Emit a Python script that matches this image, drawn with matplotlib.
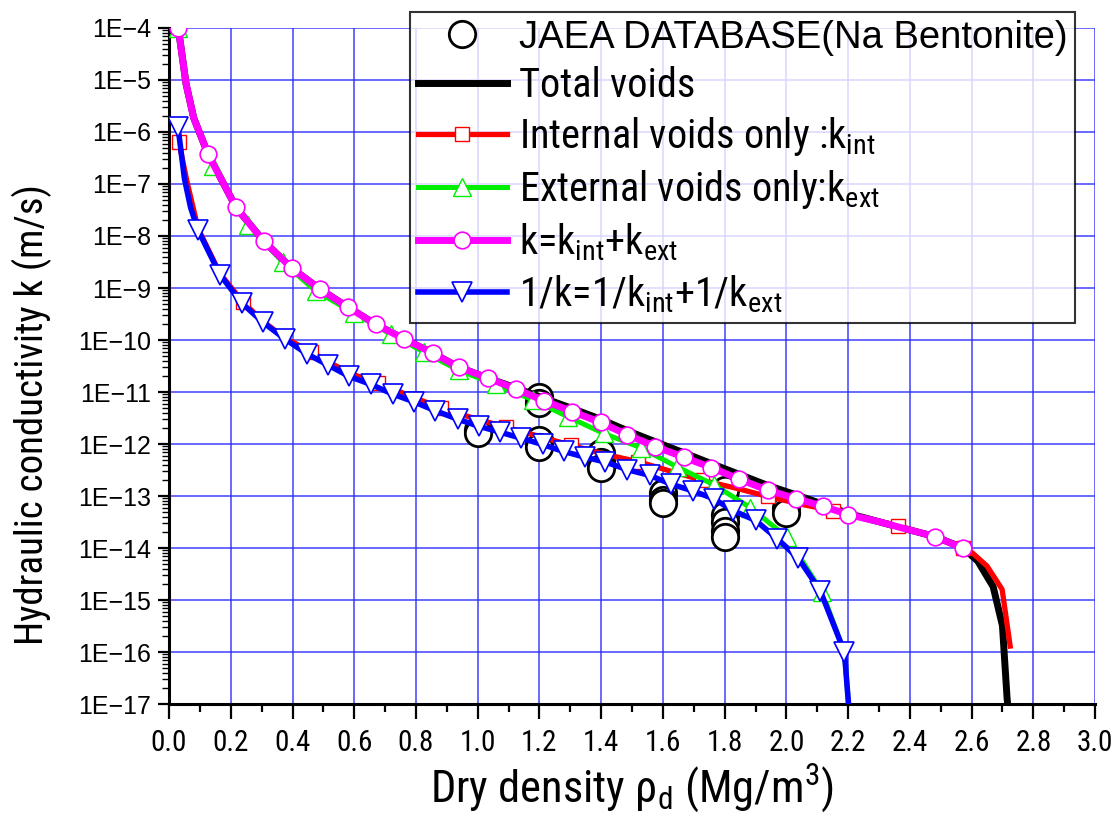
import math
import matplotlib
matplotlib.use('Agg')
import matplotlib.pyplot as plt
from matplotlib import font_manager
from matplotlib.lines import Line2D
from matplotlib.ticker import FixedLocator, LogLocator, FuncFormatter, MultipleLocator, NullFormatter

# pick a condensed sans for the labels if one is installed
fonts = font_manager.fontManager.ttflist
narrow_name = 'DejaVu Sans'
narrow_stretch = 'normal'
for cand in ['Liberation Sans Narrow', 'Roboto Condensed', 'Open Sans Condensed']:
    if any(f.name == cand for f in fonts):
        narrow_name = cand
        break
else:
    for f in fonts:
        if f.name in ('DejaVu Sans', 'Roboto', 'Open Sans', 'Noto Sans') and f.stretch in ('condensed', 'semi-condensed', 600, 700, 750):
            narrow_name = f.name
            narrow_stretch = 'condensed'
            break

plt.rcParams['font.family'] = [narrow_name, 'DejaVu Sans']
plt.rcParams['font.stretch'] = narrow_stretch
plt.rcParams['mathtext.fontset'] = 'custom'
plt.rcParams['mathtext.rm'] = narrow_name
plt.rcParams['mathtext.it'] = narrow_name

# JAEA database (Na bentonite)
jaea_rho = [1.0, 1.0, 1.2, 1.2, 1.2, 1.2, 1.4, 1.4, 1.4, 1.6, 1.6, 1.6,
            1.8, 1.8, 1.8, 1.8, 1.8, 2.0, 2.0]
jaea_k = [1.9e-12, 1.6e-12, 7.9e-12, 6.2e-12, 1.2e-12, 8.9e-13, 6.8e-13, 4.6e-13, 3.5e-13,
          1.15e-13, 8.5e-14, 7.4e-14, 1.3e-13, 4.4e-14, 3.1e-14, 2.1e-14, 1.6e-14,
          5.8e-14, 4.8e-14]

# Total voids
tot_rho = [0.03, 0.055, 0.08, 0.126, 0.217, 0.307, 0.398, 0.489, 0.579, 0.670, 0.761,
           0.854, 0.939, 1.032, 1.123, 1.214, 1.307, 1.398, 1.485, 1.576, 1.667, 1.757,
           1.848, 1.939, 2.032, 2.120, 2.201, 2.30, 2.39, 2.482, 2.573, 2.62, 2.67, 2.70,
           2.715, 2.725]
tot_k = [1.0e-4, 8.5e-6, 1.86e-6, 3.8e-7, 3.55e-8, 7.9e-9, 2.4e-9, 9.5e-10, 4.3e-10,
         2.0e-10, 1.05e-10, 5.6e-11, 3.0e-11, 1.86e-11, 1.2e-11, 7.6e-12, 4.8e-12, 3.0e-12,
         1.8e-12, 1.1e-12, 6.8e-13, 4.2e-13, 2.6e-13, 1.6e-13, 1.05e-13, 6.9e-14, 4.6e-14,
         3.2e-14, 2.3e-14, 1.66e-14, 1.0e-14, 5.6e-15, 1.8e-15, 3.2e-16, 1.3e-17, 3.2e-18]

# Internal voids only : k_int
int_rho = [0.032, 0.06, 0.094, 0.165, 0.239, 0.304, 0.375, 0.46, 0.583, 0.676, 0.793,
           0.88, 0.913, 1.0, 1.091, 1.2, 1.301, 1.414, 1.518, 1.625, 1.728, 1.84, 1.939,
           2.05, 2.152, 2.25, 2.362, 2.47, 2.573, 2.602, 2.65, 2.699, 2.725]
int_k = [6.3e-7, 1.0e-7, 1.4e-8, 1.9e-9, 5.4e-10, 2.3e-10, 1.1e-10, 5.9e-11, 2.3e-11,
         1.5e-11, 7.9e-12, 4.9e-12, 4.2e-12, 3.0e-12, 2.1e-12, 1.4e-12, 9.5e-13, 6.3e-13,
         4.6e-13, 3.0e-13, 2.0e-13, 1.4e-13, 9.8e-14, 6.9e-14, 5.2e-14, 3.8e-14, 2.7e-14,
         1.66e-14, 1.0e-14, 8.1e-15, 4.5e-15, 1.6e-15, 1.3e-16]
int_marks = [0, 4, 7, 9, 11, 14, 16, 18, 20, 22, 24, 26, 28]

# External voids only : k_ext
ext_rho = [0.03, 0.055, 0.08, 0.142, 0.256, 0.369, 0.476, 0.599, 0.718, 0.825, 0.939,
           1.058, 1.178, 1.294, 1.408, 1.528, 1.647, 1.764, 1.883, 2.003, 2.116, 2.188, 2.204]
ext_k = [1.0e-4, 8.5e-6, 1.86e-6, 2.2e-7, 1.66e-8, 3.1e-9, 8.7e-10, 3.3e-10, 1.3e-10,
         5.9e-11, 2.6e-11, 1.4e-11, 7.1e-12, 3.3e-12, 1.6e-12, 8.5e-13, 3.6e-13, 1.66e-13,
         6.0e-14, 1.6e-14, 1.4e-15, 1.0e-16, 6.3e-18]
ext_marks = [0] + list(range(3, 21))

# k = k_int + k_ext
sum_rho = [0.03, 0.055, 0.08, 0.126, 0.217, 0.307, 0.398, 0.489, 0.579, 0.670, 0.761,
           0.854, 0.939, 1.032, 1.123, 1.214, 1.307, 1.398, 1.485, 1.576, 1.667, 1.757,
           1.848, 1.939, 2.032, 2.120, 2.201, 2.30, 2.39, 2.482, 2.573]
sum_k = [1.0e-4, 8.5e-6, 1.86e-6, 3.8e-7, 3.55e-8, 7.9e-9, 2.4e-9, 9.5e-10, 4.3e-10,
         2.0e-10, 1.05e-10, 5.6e-11, 3.0e-11, 1.86e-11, 1.15e-11, 6.8e-12, 4.2e-12, 2.6e-12,
         1.5e-12, 8.9e-13, 5.6e-13, 3.5e-13, 2.1e-13, 1.3e-13, 8.9e-14, 6.3e-14, 4.4e-14,
         3.2e-14, 2.3e-14, 1.66e-14, 9.8e-15]
sum_marks = [0] + list(range(3, 27)) + [29, 30]

# 1/k = 1/k_int + 1/k_ext
ser_rho = [0.029, 0.05, 0.07, 0.094, 0.165, 0.236, 0.304, 0.375, 0.447, 0.515, 0.583,
           0.654, 0.725, 0.793, 0.861, 0.935, 1.003, 1.071, 1.139, 1.21, 1.278, 1.346,
           1.414, 1.485, 1.557, 1.625, 1.696, 1.764, 1.828, 1.90, 1.971, 2.039, 2.11,
           2.188, 2.204]
ser_k = [1.26e-6, 1.26e-7, 3.5e-8, 1.3e-8, 1.8e-9, 5.1e-10, 2.2e-10, 1.05e-10, 5.4e-11,
         3.3e-11, 2.0e-11, 1.4e-11, 9.1e-12, 6.5e-12, 4.4e-12, 3.0e-12, 2.2e-12, 1.7e-12,
         1.3e-12, 9.8e-13, 7.2e-13, 5.6e-13, 4.5e-13, 3.2e-13, 2.5e-13, 1.7e-13, 1.26e-13,
         8.9e-14, 5.2e-14, 3.4e-14, 1.5e-14, 6.3e-15, 1.5e-15, 1.0e-16, 6.3e-18]
ser_marks = [0] + list(range(3, 34))

labels = ['JAEA DATABASE(Na Bentonite)',
          'Total voids',
          'Internal voids only :k$_{\\mathrm{int}}$',
          'External voids only:k$_{\\mathrm{ext}}$',
          'k=k$_{\\mathrm{int}}$+k$_{\\mathrm{ext}}$',
          '1/k=1/k$_{\\mathrm{int}}$+1/k$_{\\mathrm{ext}}$']

fig = plt.figure(figsize=(11.15, 8.21), dpi=100)
ax = fig.add_axes([0.1516, 0.1425, 0.8305, 0.8234])

ax.plot(jaea_rho, jaea_k, 'o', ms=19, mfc='white', mec='black', mew=2, zorder=2)
ax.plot(tot_rho, tot_k, '-', color='black', lw=5, zorder=3)
ax.plot(int_rho, int_k, '-', color='red', lw=3.8, marker='s', ms=10, mfc='white',
        mec='red', mew=1, markevery=int_marks, zorder=4)
ax.plot(ext_rho, ext_k, '-', color='#00ee00', lw=3.6, marker='^', ms=13, mfc='white',
        mec='#00ee00', mew=1, markevery=ext_marks, zorder=5)
ax.plot(sum_rho, sum_k, '-', color='#ff00ff', lw=5, marker='o', ms=12, mfc='white',
        mec='#ff00ff', mew=1.2, markevery=sum_marks, zorder=6)
ax.plot(ser_rho, ser_k, '-', color='#0000ff', lw=4, marker='v', ms=14, mfc='white',
        mec='#0000ff', mew=1.2, markevery=ser_marks, zorder=7)

ax.set_yscale('log')
ax.set_xlim(0, 3.0)
ax.set_ylim(1e-17, 1e-4)

ax.xaxis.set_major_locator(MultipleLocator(0.2))
ax.xaxis.set_minor_locator(MultipleLocator(0.1))
ax.xaxis.set_major_formatter(FuncFormatter(lambda v, p: f'{v:.1f}'))
ax.yaxis.set_major_locator(FixedLocator([10.0 ** e for e in range(-17, -3)]))
ax.yaxis.set_minor_locator(LogLocator(base=10, subs=range(2, 10), numticks=30))
ax.yaxis.set_minor_formatter(NullFormatter())
ax.yaxis.set_major_formatter(FuncFormatter(
    lambda v, p: '1E\u2212' + str(int(round(-math.log10(v))))))

ax.tick_params(axis='x', which='major', direction='out', length=11, width=1.6, labelsize=21, pad=7)
ax.tick_params(axis='x', which='minor', direction='out', length=6, width=1.6)
ax.tick_params(axis='y', which='major', direction='out', length=8, width=1.6, labelsize=18, pad=5)
ax.tick_params(axis='y', which='minor', direction='out', length=5, width=1.0)
for lab in ax.get_yticklabels():
    lab.set_family(['Liberation Sans', 'DejaVu Sans'])
    lab.set_stretch('normal')

for side in ['top', 'right']:
    ax.spines[side].set_visible(False)
for side in ['left', 'bottom']:
    ax.spines[side].set_linewidth(2.2)

ax.grid(True, which='major', color='#3030ff', lw=1.2, alpha=0.85)
ax.set_axisbelow(True)

ax.set_xlabel('Dry density \u03c1$_{\\mathrm{d}}$ (Mg/m$^{3}$)', fontsize=32, labelpad=3)
ax.set_ylabel('Hydraulic conductivity k (m/s)', fontsize=28)
ax.yaxis.set_label_coords(-0.126, 0.4275)

handles = [
    Line2D([], [], ls='none', marker='o', ms=19, mfc='white', mec='black', mew=2),
    Line2D([], [], color='black', lw=5),
    Line2D([], [], color='red', lw=3.8, marker='s', ms=10, mfc='white', mec='red', mew=1),
    Line2D([], [], color='#00ee00', lw=3.6, marker='^', ms=13, mfc='white', mec='#00ee00', mew=1),
    Line2D([], [], color='#ff00ff', lw=5, marker='o', ms=12, mfc='white', mec='#ff00ff', mew=1.2),
    Line2D([], [], color='#0000ff', lw=4, marker='v', ms=14, mfc='white', mec='#0000ff', mew=1.2),
]
leg = fig.legend(handles, labels, loc='upper left', bbox_to_anchor=(410 / 1115, 1 - 12 / 821),
                 fontsize=29, frameon=True, fancybox=False, handlelength=2.2,
                 handletextpad=0.3, labelspacing=0.25, borderpad=0.2, borderaxespad=0)
leg.get_frame().set_edgecolor('black')
leg.get_frame().set_linewidth(1.5)
leg.set_zorder(10)
first = leg.get_texts()[0]
first.set_family(['Liberation Sans', 'DejaVu Sans'])
first.set_stretch('normal')
first.set_fontsize(27.5)

fig.savefig('out.png', dpi=100)
